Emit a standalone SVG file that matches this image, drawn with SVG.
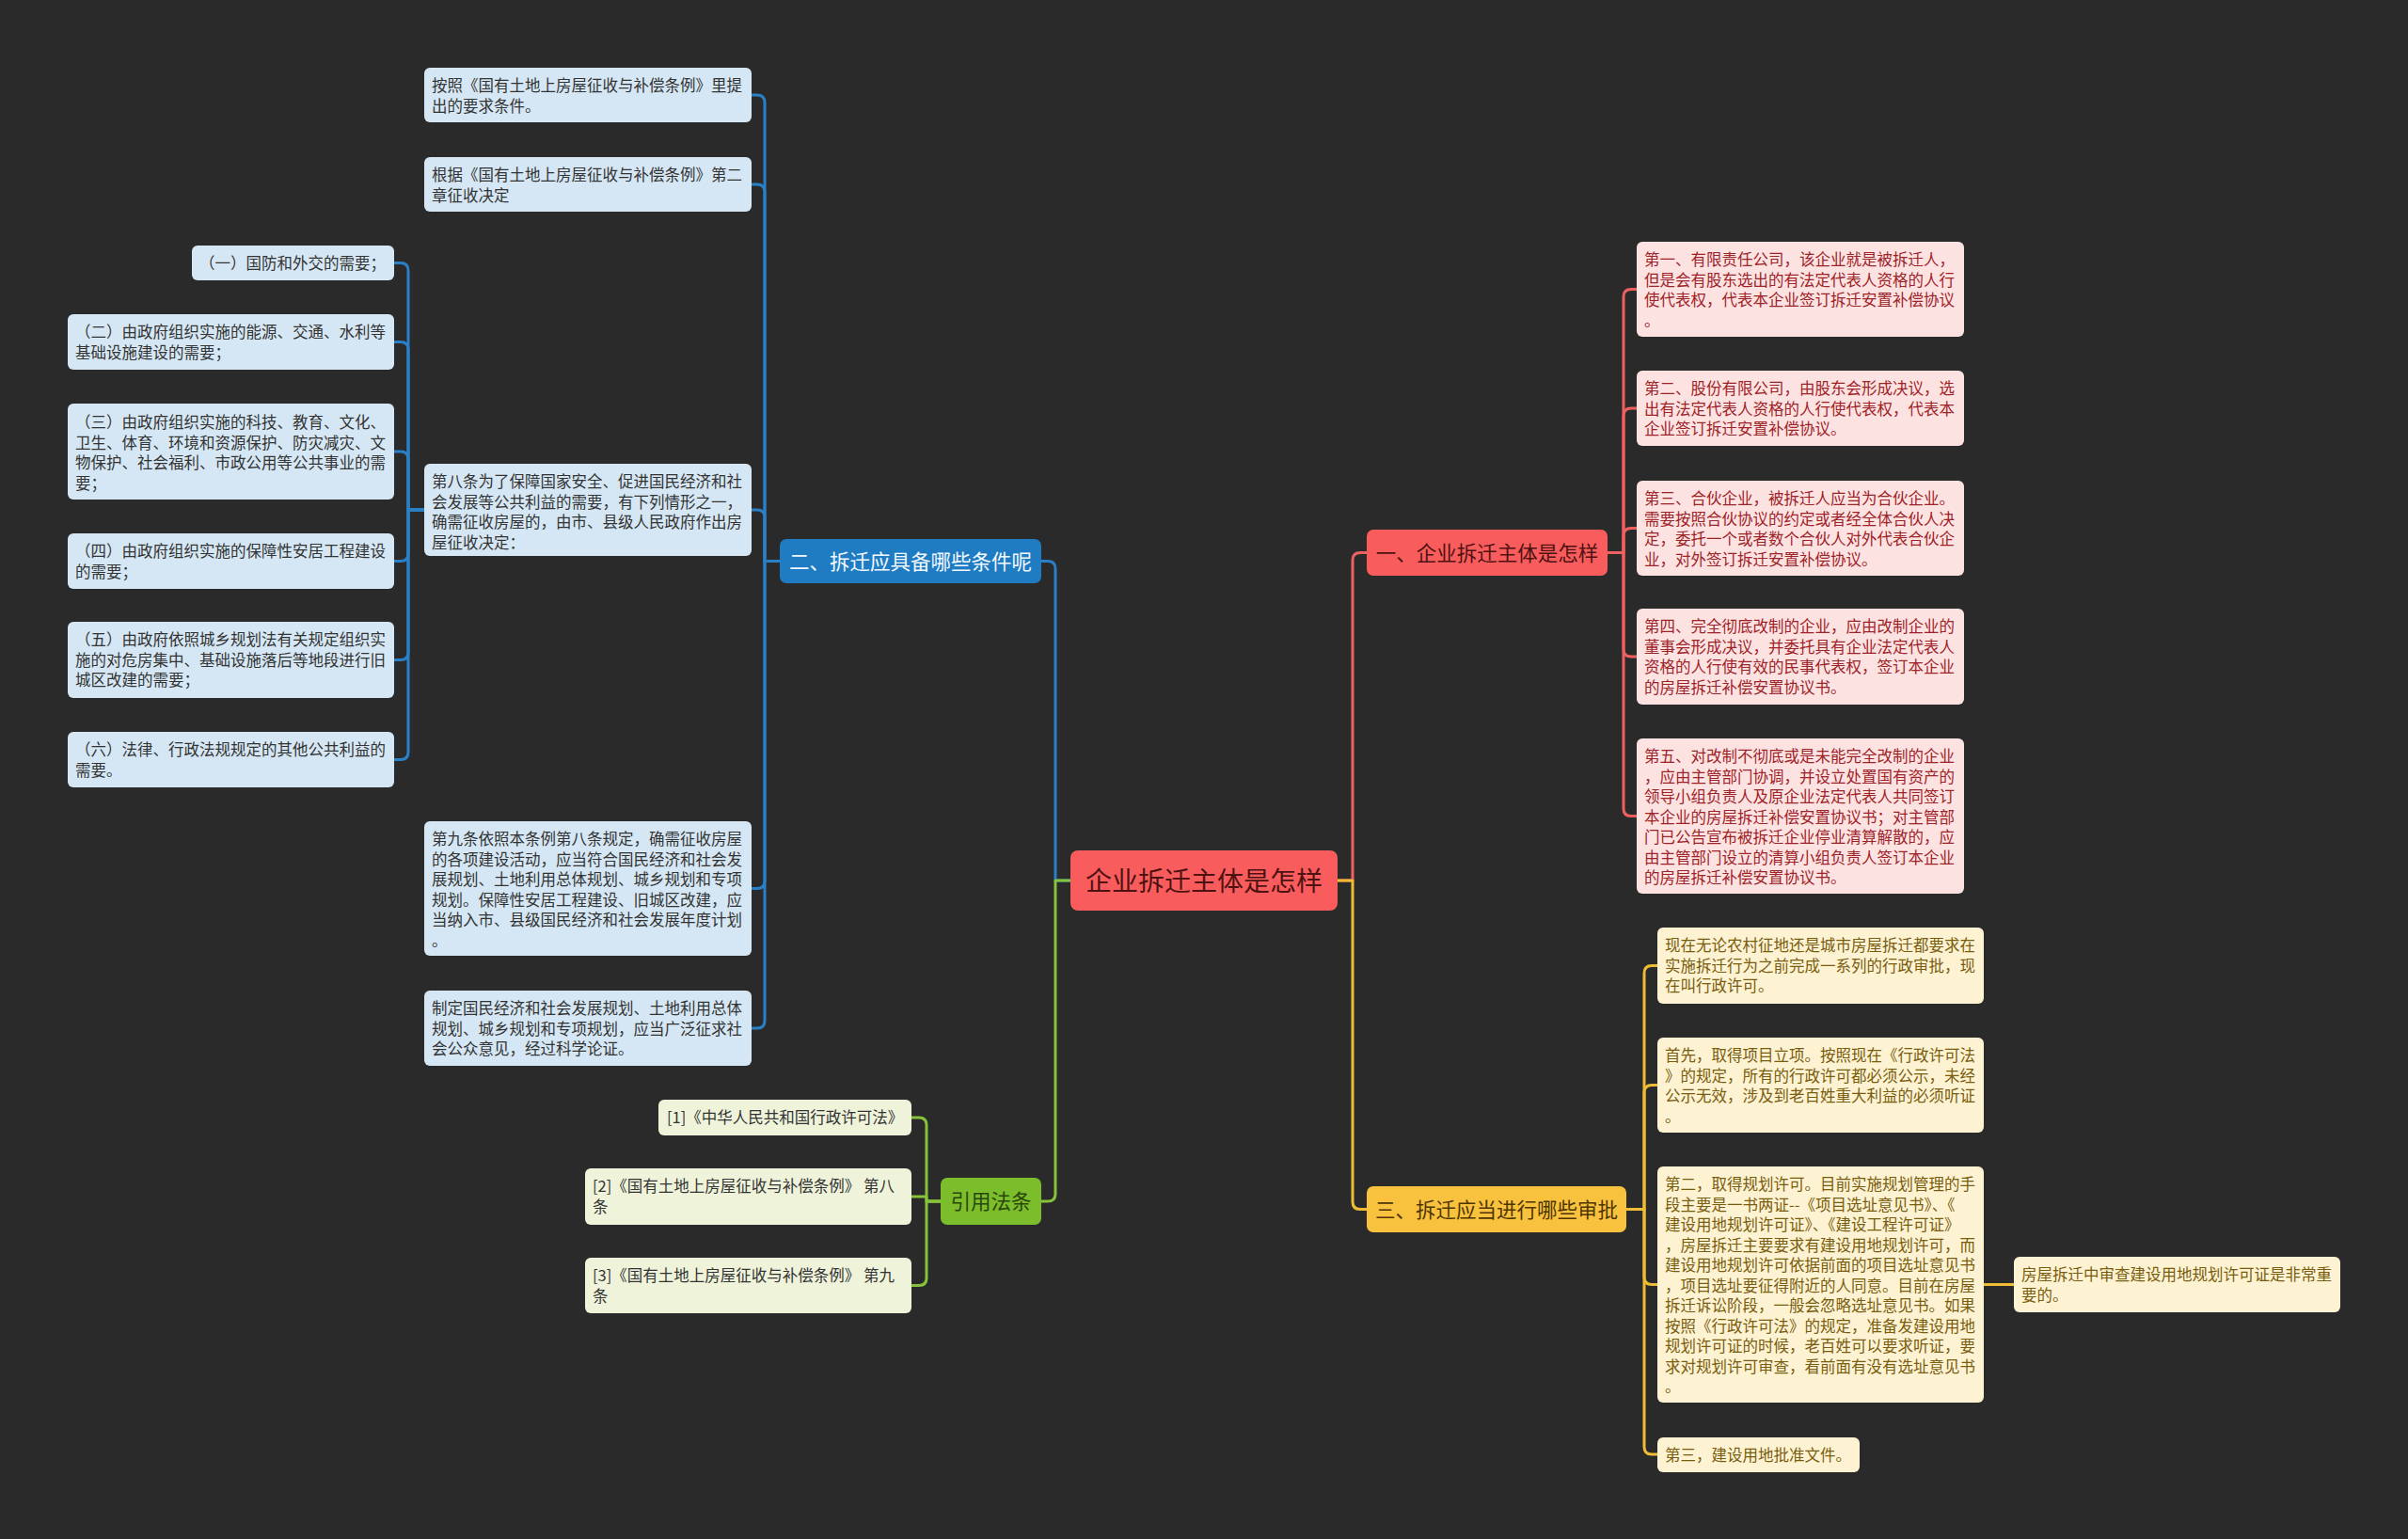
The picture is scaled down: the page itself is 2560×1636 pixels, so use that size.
<svg xmlns="http://www.w3.org/2000/svg" width="2560" height="1636" viewBox="0 0 2560 1636">
<style>
text{font-family:"Noto Sans CJK SC","Noto Sans",sans-serif;}
.t2{font-size:16.5px;}
.t1{font-size:21.5px;text-anchor:middle;}
.bl2{fill:#d5e7f4;}
.rd2{fill:#fde2e2;}
.yl2{fill:#fdf3d2;}
.gr2{fill:#eef3da;}
.bt{fill:#333333;}
.rt{fill:#9e2328;}
.yt{fill:#7a5c0e;}
.gt{fill:#333333;}
.c{fill:none;stroke-width:3;stroke-linejoin:round;}
.cb{stroke:#2a80c6;}
.cr{stroke:#ef6060;}
.cg{stroke:#86c23a;}
.cy{stroke:#eebd35;}
</style>
<rect width="2560" height="1636" fill="#2a2a2a"/>

<g id="connectors">
<path class="c cb" d="M1138,936 H1122 V604.5 Q1122,596.5 1114,596.5 H1107"/>
<path class="c cg" d="M1138,936 H1122 V1269 Q1122,1277 1114,1277 H1107"/>
<path class="c cr" d="M1422,936 H1438 V595.5 Q1438,587.5 1446,587.5 H1453"/>
<path class="c cy" d="M1422,936 H1438 V1277.5 Q1438,1285.5 1446,1285.5 H1453"/>

<path class="c cb" d="M829,596.5 H813 V109 Q813,101 805,101 H799"/>
<path class="c cb" d="M829,596.5 H813 V204 Q813,196 805,196 H799"/>
<path class="c cb" d="M829,596.5 H813 V550 Q813,542 805,542 H799"/>
<path class="c cb" d="M829,596.5 H813 V936.5 Q813,944.5 805,944.5 H799"/>
<path class="c cb" d="M829,596.5 H813 V1085 Q813,1093 805,1093 H799"/>

<path class="c cb" d="M451,542 H434 V287.5 Q434,279.5 426,279.5 H419"/>
<path class="c cb" d="M451,542 H434 V371.5 Q434,363.5 426,363.5 H419"/>
<path class="c cb" d="M451,542 H434 V488 Q434,480 426,480 H419"/>
<path class="c cb" d="M451,542 H434 V588.5 Q434,596.5 426,596.5 H419"/>
<path class="c cb" d="M451,542 H434 V693.5 Q434,701.5 426,701.5 H419"/>
<path class="c cb" d="M451,542 H434 V799.5 Q434,807.5 426,807.5 H419"/>

<path class="c cg" d="M1000,1277 H985 V1196 Q985,1188 977,1188 H969"/>
<path class="c cg" d="M1000,1277 H985 V1272 H969"/>
<path class="c cg" d="M1000,1277 H985 V1358.5 Q985,1366.5 977,1366.5 H969"/>

<path class="c cr" d="M1709,587.5 H1726 V315.5 Q1726,307.5 1734,307.5 H1740"/>
<path class="c cr" d="M1709,587.5 H1726 V442 Q1726,434 1734,434 H1740"/>
<path class="c cr" d="M1709,587.5 H1726 V569.5 Q1726,561.5 1734,561.5 H1740"/>
<path class="c cr" d="M1709,587.5 H1726 V690 Q1726,698 1734,698 H1740"/>
<path class="c cr" d="M1709,587.5 H1726 V859.5 Q1726,867.5 1734,867.5 H1740"/>

<path class="c cy" d="M1729,1285.5 H1748 V1034.5 Q1748,1026.5 1756,1026.5 H1762"/>
<path class="c cy" d="M1729,1285.5 H1748 V1161.5 Q1748,1153.5 1756,1153.5 H1762"/>
<path class="c cy" d="M1729,1285.5 H1748 V1357.5 Q1748,1365.5 1756,1365.5 H1762"/>
<path class="c cy" d="M1729,1285.5 H1748 V1538 Q1748,1546 1756,1546 H1762"/>
<path class="c cy" d="M2109,1365.5 H2141"/>
</g>

<g id="root">
<rect x="1138" y="904" width="284" height="64" rx="8" fill="#f95c5c"/>
<text x="1280" y="946.5" style="font-size:28px;text-anchor:middle" fill="#4e1212">企业拆迁主体是怎样</text>
</g>

<g id="n1">
<rect x="1453" y="563" width="256" height="49" rx="7" fill="#f95c5c"/>
<text class="t1" x="1581" y="595.5" fill="#4e1212">一、企业拆迁主体是怎样</text>
</g>
<g id="n2">
<rect x="829" y="573" width="278" height="47" rx="7" fill="#1f7cc2"/>
<text class="t1" x="968" y="604.5" fill="#f2f8ff">二、拆迁应具备哪些条件呢</text>
</g>
<g id="n3">
<rect x="1453" y="1261" width="276" height="49" rx="7" fill="#f8c23f"/>
<text class="t1" x="1591" y="1293.5" fill="#4f3500">三、拆迁应当进行哪些审批</text>
</g>
<g id="n4">
<rect x="1000" y="1252" width="107" height="50" rx="7" fill="#7cbd2c"/>
<text class="t1" x="1053.5" y="1285" fill="#2a470b">引用法条</text>
</g>

<g id="b1">
<rect class="bl2" x="451" y="72" width="348" height="58" rx="6"/>
<text class="t2 bt" x="459" y="97"><tspan x="459">按照《国有土地上房屋征收与补偿条例》里提</tspan><tspan x="459" dy="21.5">出的要求条件。</tspan></text>
</g>
<g id="b2">
<rect class="bl2" x="451" y="167" width="348" height="58" rx="6"/>
<text class="t2 bt" x="459" y="192"><tspan x="459">根据《国有土地上房屋征收与补偿条例》第二</tspan><tspan x="459" dy="21.5">章征收决定</tspan></text>
</g>
<g id="b3">
<rect class="bl2" x="451" y="493" width="348" height="98" rx="6"/>
<text class="t2 bt" x="459" y="518"><tspan x="459">第八条为了保障国家安全、促进国民经济和社</tspan><tspan x="459" dy="21.5">会发展等公共利益的需要，有下列情形之一，</tspan><tspan x="459" dy="21.5">确需征收房屋的，由市、县级人民政府作出房</tspan><tspan x="459" dy="21.5">屋征收决定：</tspan></text>
</g>
<g id="b4">
<rect class="bl2" x="451" y="873" width="348" height="143" rx="6"/>
<text class="t2 bt" x="459" y="898"><tspan x="459">第九条依照本条例第八条规定，确需征收房屋</tspan><tspan x="459" dy="21.5">的各项建设活动，应当符合国民经济和社会发</tspan><tspan x="459" dy="21.5">展规划、土地利用总体规划、城乡规划和专项</tspan><tspan x="459" dy="21.5">规划。保障性安居工程建设、旧城区改建，应</tspan><tspan x="459" dy="21.5">当纳入市、县级国民经济和社会发展年度计划</tspan><tspan x="459" dy="21.5">。</tspan></text>
</g>
<g id="b5">
<rect class="bl2" x="451" y="1053" width="348" height="80" rx="6"/>
<text class="t2 bt" x="459" y="1078"><tspan x="459">制定国民经济和社会发展规划、土地利用总体</tspan><tspan x="459" dy="21.5">规划、城乡规划和专项规划，应当广泛征求社</tspan><tspan x="459" dy="21.5">会公众意见，经过科学论证。</tspan></text>
</g>

<g id="l1">
<rect class="bl2" x="204" y="261" width="215" height="37" rx="6"/>
<text class="t2 bt" x="212" y="286">（一）国防和外交的需要；</text>
</g>
<g id="l2">
<rect class="bl2" x="72" y="334" width="347" height="59" rx="6"/>
<text class="t2 bt" x="80" y="359"><tspan x="80">（二）由政府组织实施的能源、交通、水利等</tspan><tspan x="80" dy="21.5">基础设施建设的需要；</tspan></text>
</g>
<g id="l3">
<rect class="bl2" x="72" y="429" width="347" height="102" rx="6"/>
<text class="t2 bt" x="80" y="455"><tspan x="80">（三）由政府组织实施的科技、教育、文化、</tspan><tspan x="80" dy="21.5">卫生、体育、环境和资源保护、防灾减灾、文</tspan><tspan x="80" dy="21.5">物保护、社会福利、市政公用等公共事业的需</tspan><tspan x="80" dy="21.5">要；</tspan></text>
</g>
<g id="l4">
<rect class="bl2" x="72" y="567" width="347" height="59" rx="6"/>
<text class="t2 bt" x="80" y="592"><tspan x="80">（四）由政府组织实施的保障性安居工程建设</tspan><tspan x="80" dy="21.5">的需要；</tspan></text>
</g>
<g id="l5">
<rect class="bl2" x="72" y="661" width="347" height="81" rx="6"/>
<text class="t2 bt" x="80" y="686"><tspan x="80">（五）由政府依照城乡规划法有关规定组织实</tspan><tspan x="80" dy="21.5">施的对危房集中、基础设施落后等地段进行旧</tspan><tspan x="80" dy="21.5">城区改建的需要；</tspan></text>
</g>
<g id="l6">
<rect class="bl2" x="72" y="778" width="347" height="59" rx="6"/>
<text class="t2 bt" x="80" y="803"><tspan x="80">（六）法律、行政法规规定的其他公共利益的</tspan><tspan x="80" dy="21.5">需要。</tspan></text>
</g>

<g id="g1">
<rect class="gr2" x="700" y="1169" width="269" height="38" rx="6"/>
<text class="t2 gt" x="709" y="1194">[1]《中华人民共和国行政许可法》</text>
</g>
<g id="g2">
<rect class="gr2" x="622" y="1242" width="347" height="60" rx="6"/>
<text class="t2 gt" x="630" y="1267"><tspan x="630">[2]《国有土地上房屋征收与补偿条例》 第八</tspan><tspan x="630" dy="21.5">条</tspan></text>
</g>
<g id="g3">
<rect class="gr2" x="622" y="1337" width="347" height="59" rx="6"/>
<text class="t2 gt" x="630" y="1362"><tspan x="630">[3]《国有土地上房屋征收与补偿条例》 第九</tspan><tspan x="630" dy="21.5">条</tspan></text>
</g>

<g id="r1">
<rect class="rd2" x="1740" y="257" width="348" height="101" rx="6"/>
<text class="t2 rt" x="1748" y="282"><tspan x="1748">第一、有限责任公司，该企业就是被拆迁人，</tspan><tspan x="1748" dy="21.5">但是会有股东选出的有法定代表人资格的人行</tspan><tspan x="1748" dy="21.5">使代表权，代表本企业签订拆迁安置补偿协议</tspan><tspan x="1748" dy="21.5">。</tspan></text>
</g>
<g id="r2">
<rect class="rd2" x="1740" y="394" width="348" height="80" rx="6"/>
<text class="t2 rt" x="1748" y="419"><tspan x="1748">第二、股份有限公司，由股东会形成决议，选</tspan><tspan x="1748" dy="21.5">出有法定代表人资格的人行使代表权，代表本</tspan><tspan x="1748" dy="21.5">企业签订拆迁安置补偿协议。</tspan></text>
</g>
<g id="r3">
<rect class="rd2" x="1740" y="511" width="348" height="101" rx="6"/>
<text class="t2 rt" x="1748" y="536"><tspan x="1748">第三、合伙企业，被拆迁人应当为合伙企业。</tspan><tspan x="1748" dy="21.5">需要按照合伙协议的约定或者经全体合伙人决</tspan><tspan x="1748" dy="21.5">定，委托一个或者数个合伙人对外代表合伙企</tspan><tspan x="1748" dy="21.5">业，对外签订拆迁安置补偿协议。</tspan></text>
</g>
<g id="r4">
<rect class="rd2" x="1740" y="647" width="348" height="102" rx="6"/>
<text class="t2 rt" x="1748" y="672"><tspan x="1748">第四、完全彻底改制的企业，应由改制企业的</tspan><tspan x="1748" dy="21.5">董事会形成决议，并委托具有企业法定代表人</tspan><tspan x="1748" dy="21.5">资格的人行使有效的民事代表权，签订本企业</tspan><tspan x="1748" dy="21.5">的房屋拆迁补偿安置协议书。</tspan></text>
</g>
<g id="r5">
<rect class="rd2" x="1740" y="785" width="348" height="165" rx="6"/>
<text class="t2 rt" x="1748" y="810"><tspan x="1748">第五、对改制不彻底或是未能完全改制的企业</tspan><tspan x="1748" dy="21.5">，应由主管部门协调，并设立处置国有资产的</tspan><tspan x="1748" dy="21.5">领导小组负责人及原企业法定代表人共同签订</tspan><tspan x="1748" dy="21.5">本企业的房屋拆迁补偿安置协议书；对主管部</tspan><tspan x="1748" dy="21.5">门已公告宣布被拆迁企业停业清算解散的，应</tspan><tspan x="1748" dy="21.5">由主管部门设立的清算小组负责人签订本企业</tspan><tspan x="1748" dy="21.5">的房屋拆迁补偿安置协议书。</tspan></text>
</g>

<g id="y1">
<rect class="yl2" x="1762" y="986" width="347" height="81" rx="6"/>
<text class="t2 yt" x="1770" y="1011"><tspan x="1770">现在无论农村征地还是城市房屋拆迁都要求在</tspan><tspan x="1770" dy="21.5">实施拆迁行为之前完成一系列的行政审批，现</tspan><tspan x="1770" dy="21.5">在叫行政许可。</tspan></text>
</g>
<g id="y2">
<rect class="yl2" x="1762" y="1103" width="347" height="101" rx="6"/>
<text class="t2 yt" x="1770" y="1128"><tspan x="1770">首先，取得项目立项。按照现在《行政许可法</tspan><tspan x="1770" dy="21.5">》的规定，所有的行政许可都必须公示，未经</tspan><tspan x="1770" dy="21.5">公示无效，涉及到老百姓重大利益的必须听证</tspan><tspan x="1770" dy="21.5">。</tspan></text>
</g>
<g id="y3">
<rect class="yl2" x="1762" y="1240" width="347" height="251" rx="6"/>
<text class="t2 yt" x="1770" y="1265"><tspan x="1770">第二，取得规划许可。目前实施规划管理的手</tspan><tspan x="1770" dy="21.5">段主要是一书两证--《项目选址意见书》、《</tspan><tspan x="1770" dy="21.5">建设用地规划许可证》、《建设工程许可证》</tspan><tspan x="1770" dy="21.5">，房屋拆迁主要要求有建设用地规划许可，而</tspan><tspan x="1770" dy="21.5">建设用地规划许可依据前面的项目选址意见书</tspan><tspan x="1770" dy="21.5">，项目选址要征得附近的人同意。目前在房屋</tspan><tspan x="1770" dy="21.5">拆迁诉讼阶段，一般会忽略选址意见书。如果</tspan><tspan x="1770" dy="21.5">按照《行政许可法》的规定，准备发建设用地</tspan><tspan x="1770" dy="21.5">规划许可证的时候，老百姓可以要求听证，要</tspan><tspan x="1770" dy="21.5">求对规划许可审查，看前面有没有选址意见书</tspan><tspan x="1770" dy="21.5">。</tspan></text>
</g>
<g id="y4">
<rect class="yl2" x="1762" y="1528" width="215" height="37" rx="6"/>
<text class="t2 yt" x="1770" y="1553">第三，建设用地批准文件。</text>
</g>
<g id="y5">
<rect class="yl2" x="2141" y="1336" width="347" height="59" rx="6"/>
<text class="t2 yt" x="2149" y="1361"><tspan x="2149">房屋拆迁中审查建设用地规划许可证是非常重</tspan><tspan x="2149" dy="21.5">要的。</tspan></text>
</g>
</svg>
